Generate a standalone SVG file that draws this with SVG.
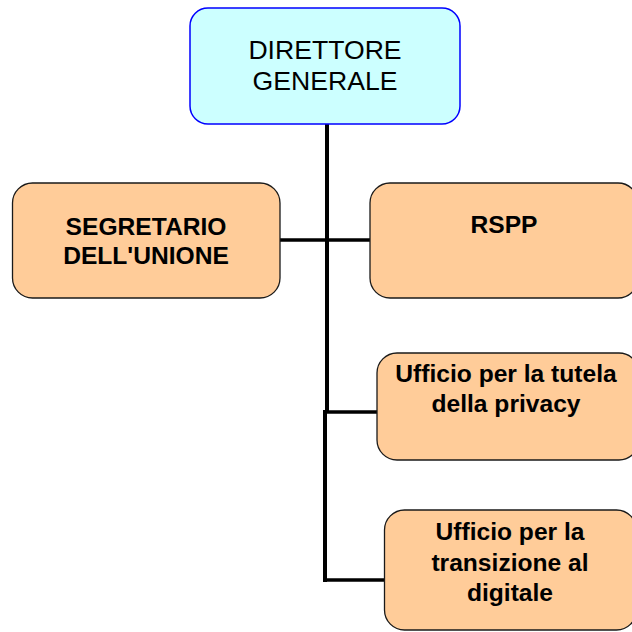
<svg xmlns="http://www.w3.org/2000/svg" width="632" height="632" viewBox="0 0 632 632">
<style>
.box{fill:#FFCC99;stroke:#1a1a1a;stroke-width:1.3}
.top{fill:#CCFFFF;stroke:#0000FF;stroke-width:1.5}
.t{font-family:"Liberation Sans",Arial,sans-serif;font-size:24.6px;font-weight:bold;fill:#000;text-anchor:middle}
.tr{font-family:"Liberation Sans",Arial,sans-serif;font-size:26.6px;fill:#000;text-anchor:middle}
.c{stroke:#000;fill:none}
</style>
<rect width="632" height="632" fill="#fff"/>
<g id="connectors">
<path class="c" stroke-width="4" d="M327,124 V412 M325,410 V582"/>
<path class="c" stroke-width="3.5" d="M280,240 H370"/>
<path class="c" stroke-width="3.5" d="M325,412 H377"/>
<path class="c" stroke-width="3.5" d="M325,580 H384"/>
</g>
<g id="direttore">
<rect class="top" x="190" y="8" width="270" height="116" rx="18"/>
<text class="tr" x="325" y="59">DIRETTORE</text>
<text class="tr" x="325" y="90">GENERALE</text>
</g>
<g id="segretario">
<rect class="box" x="12.5" y="183" width="267.5" height="115" rx="20"/>
<text class="t" x="146" y="235">SEGRETARIO</text>
<text class="t" x="146" y="264">DELL'UNIONE</text>
</g>
<g id="rspp">
<rect class="box" x="370" y="183" width="268" height="115" rx="20"/>
<text class="t" x="504" y="233">RSPP</text>
</g>
<g id="privacy">
<rect class="box" x="377" y="353" width="262" height="107" rx="20"/>
<text class="t" x="506" y="382">Ufficio per la tutela</text>
<text class="t" x="506" y="412">della privacy</text>
</g>
<g id="digitale">
<rect class="box" x="384.5" y="510" width="252" height="120" rx="20"/>
<text class="t" x="510" y="540">Ufficio per la</text>
<text class="t" x="510" y="571">transizione al</text>
<text class="t" x="510" y="601">digitale</text>
</g>
</svg>
